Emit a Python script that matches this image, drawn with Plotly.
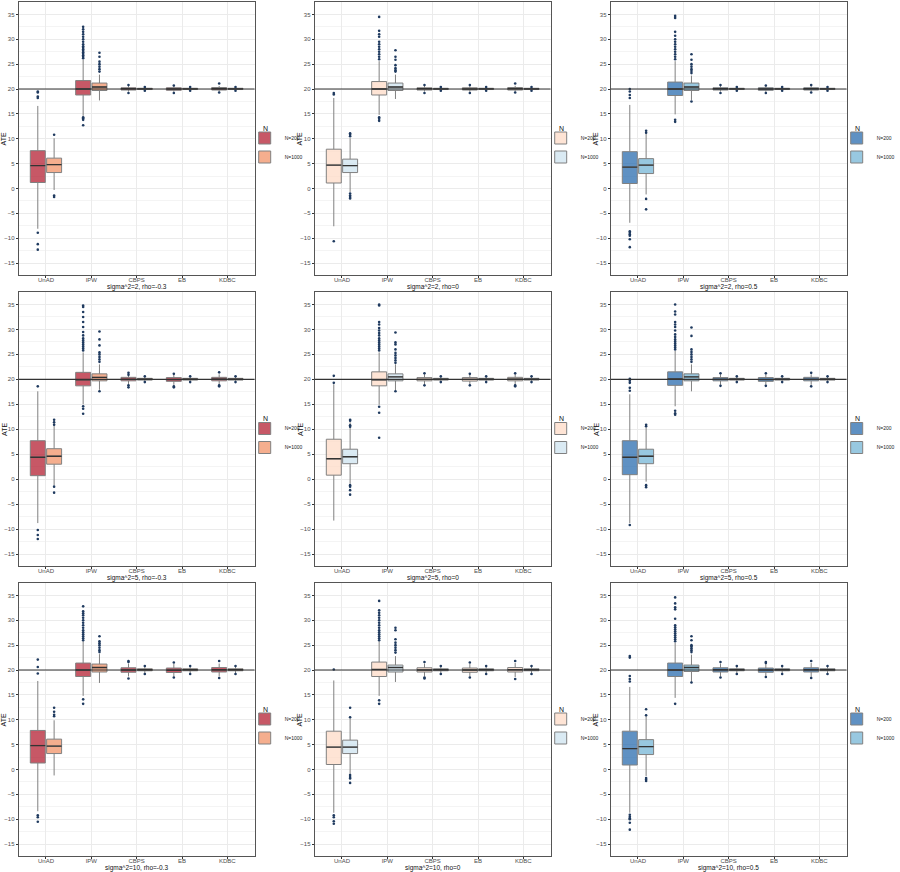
import plotly.graph_objects as go

# ---------- data ----------
methods = ["UnAD", "IPW", "CBPS", "EB", "KDBC"]
panel_titles = [
    "sigma^2=2, rho=-0.3", "sigma^2=2, rho=0", "sigma^2=2, rho=0.5",
    "sigma^2=5, rho=-0.3", "sigma^2=5, rho=0", "sigma^2=5, rho=0.5",
    "sigma^2=10, rho=-0.3", "sigma^2=10, rho=0", "sigma^2=10, rho=0.5",
]
true_ate = 20

# box stats, one row per panel, one value per method (N=200)
q1_200 = [
    [1.2, 18.8, 19.8, 19.75, 19.8], [1.1, 18.8, 19.8, 19.8, 19.8], [1.0, 18.7, 19.8, 19.75, 19.8],
    [0.7, 18.7, 19.7, 19.6, 19.7], [0.8, 18.7, 19.7, 19.65, 19.7], [0.9, 18.8, 19.7, 19.6, 19.7],
    [1.3, 18.7, 19.55, 19.5, 19.6], [1.0, 18.7, 19.6, 19.55, 19.6], [0.9, 18.7, 19.6, 19.55, 19.6],
]
med_200 = [
    [4.6, 20.0, 20.05, 20.0, 20.05], [4.7, 20.0, 20.05, 20.0, 20.05], [4.3, 20.0, 20.05, 20.0, 20.05],
    [4.4, 19.9, 20.0, 19.95, 20.05], [4.1, 19.9, 20.0, 20.0, 20.05], [4.4, 20.1, 20.0, 19.95, 20.0],
    [4.8, 20.0, 20.0, 19.95, 20.05], [4.5, 20.1, 20.0, 20.0, 20.05], [4.2, 20.0, 20.05, 20.0, 20.05],
]
q3_200 = [
    [7.6, 21.7, 20.25, 20.25, 20.3], [7.9, 21.5, 20.25, 20.25, 20.3], [7.4, 21.4, 20.25, 20.25, 20.25],
    [7.7, 21.4, 20.4, 20.35, 20.4], [8.0, 21.5, 20.35, 20.35, 20.4], [7.7, 21.5, 20.35, 20.35, 20.4],
    [7.85, 21.4, 20.45, 20.4, 20.5], [7.7, 21.6, 20.45, 20.4, 20.5], [7.7, 21.4, 20.45, 20.4, 20.45],
]
lo_200 = [
    [-8.1, 14.6, 19.5, 19.45, 19.5], [-7.6, 14.8, 19.5, 19.45, 19.5], [-6.9, 14.9, 19.5, 19.45, 19.5],
    [-8.8, 15.0, 18.9, 18.9, 18.9], [-8.3, 14.9, 18.9, 18.9, 18.9], [-8.8, 14.6, 18.9, 18.9, 18.9],
    [-8.4, 14.8, 18.7, 18.7, 18.7], [-8.7, 14.8, 18.7, 18.7, 18.6], [-8.7, 14.4, 18.7, 18.7, 18.6],
]
hi_200 = [
    [16.6, 25.9, 20.6, 20.6, 20.6], [18.2, 25.6, 20.6, 20.6, 20.65], [16.8, 25.6, 20.6, 20.6, 20.6],
    [17.6, 25.4, 21.0, 20.9, 21.0], [19.0, 25.4, 21.0, 20.95, 21.0], [17.0, 25.7, 21.0, 20.95, 21.0],
    [17.8, 25.8, 21.3, 21.2, 21.3], [17.9, 25.8, 21.3, 21.2, 21.4], [16.6, 25.5, 21.3, 21.3, 21.4],
]
out_200 = [
    [[19.5, 19.3, 18.5, 18.2, -8.9, -11.2, -12.3],
     [26.2, 26.5, 26.8, 27.1, 27.4, 27.7, 28.0, 28.3, 28.6, 29.0, 29.5, 30.0, 30.5, 31.0, 31.5, 32.0, 32.5, 14.3, 14.1, 13.8, 12.7],
     [19.2, 20.8], [19.2, 20.7], [19.3, 21.1]],
    [[19.2, 18.9, -10.6],
     [26.0, 26.5, 27.0, 27.5, 28.0, 28.5, 29.0, 29.5, 30.5, 31.0, 31.7, 34.5, 14.3, 14.0, 13.6],
     [19.2, 20.8], [19.2, 20.8], [19.3, 21.1]],
    [[20.0, 19.5, 18.8, 18.2, -8.6, -8.9, -9.2, -9.5, -10.2, -11.8],
     [26.0, 26.5, 27.0, 27.5, 28.0, 28.5, 29.0, 29.5, 30.0, 30.7, 31.5, 34.3, 34.7, 13.8, 13.4],
     [19.2, 20.8], [19.2, 20.7], [19.3, 20.8]],
    [[18.6, -10.2, -11.2, -12.0],
     [25.8, 26.2, 26.6, 27.0, 27.4, 27.8, 28.2, 28.8, 29.5, 30.5, 31.5, 32.5, 33.5, 34.5, 34.8, 14.6, 14.1, 13.1],
     [18.4, 18.8, 21.3, 20.9], [18.4, 18.6, 21.1], [18.6, 18.8, 21.4]],
    [[20.7, 19.3],
     [25.8, 26.2, 26.6, 27.0, 27.4, 27.8, 28.2, 28.8, 29.3, 29.8, 30.3, 31.0, 31.5, 34.8, 35.0, 14.5, 13.3, 8.3],
     [18.8, 21.2], [18.8, 21.1], [18.6, 18.8, 21.2]],
    [[20.1, 19.7, 19.3, 18.3, 17.7, -9.2],
     [26.0, 26.4, 26.8, 27.2, 27.6, 28.0, 28.5, 29.0, 29.8, 30.5, 31.0, 31.5, 33.0, 33.6, 35.0, 13.7, 13.2, 12.9],
     [18.7, 21.2], [18.7, 21.2], [18.6, 21.3]],
    [[19.3, 20.6, 22.1, -9.2, -9.6, -10.5],
     [26.0, 26.4, 26.8, 27.2, 27.6, 28.0, 28.5, 29.0, 29.5, 30.0, 30.5, 31.0, 31.4, 31.8, 32.8, 14.1, 13.2],
     [18.3, 21.6, 21.8], [18.5, 21.5], [18.4, 21.8]],
    [[20.1, -9.2, -9.6, -10.4, -10.9],
     [26.0, 26.4, 26.8, 27.2, 27.6, 28.0, 28.5, 29.0, 29.5, 30.0, 30.5, 31.0, 31.5, 32.0, 33.9, 13.9, 13.2],
     [18.3, 18.5, 21.6], [18.5, 21.5], [18.2, 21.8]],
    [[22.8, 22.5, 18.8, 18.2, 17.7, -9.1, -9.5, -9.8, -10.0, -10.7, -12.1],
     [25.8, 26.2, 26.6, 27.0, 27.4, 27.8, 28.2, 28.6, 29.0, 30.3, 32.2, 32.6, 33.4, 34.6, 13.2],
     [18.5, 21.6], [18.6, 21.6, 21.4], [18.4, 21.8]],
]

# box stats for N=1000
q1_1000 = [
    [3.2, 19.7, 19.9, 19.9, 19.9], [3.2, 19.7, 19.9, 19.9, 19.9], [3.0, 19.7, 19.9, 19.9, 19.9],
    [3.0, 19.7, 19.85, 19.85, 19.85], [3.1, 19.7, 19.85, 19.85, 19.85], [3.1, 19.7, 19.85, 19.85, 19.85],
    [3.2, 19.6, 19.85, 19.85, 19.85], [3.2, 19.6, 19.85, 19.85, 19.85], [3.0, 19.7, 19.85, 19.85, 19.85],
]
med_1000 = [
    [4.8, 20.4, 20.03, 20.03, 20.03], [4.6, 20.4, 20.03, 20.03, 20.03], [4.7, 20.4, 20.03, 20.03, 20.03],
    [4.6, 20.4, 20.02, 20.02, 20.02], [4.5, 20.5, 20.02, 20.02, 20.02], [4.6, 20.5, 20.02, 20.02, 20.02],
    [4.7, 20.5, 20.05, 20.05, 20.05], [4.5, 20.5, 20.05, 20.05, 20.05], [4.6, 20.5, 20.05, 20.05, 20.05],
]
q3_1000 = [
    [6.1, 21.2, 20.15, 20.15, 20.15], [5.9, 21.2, 20.15, 20.15, 20.15], [6.0, 21.2, 20.15, 20.15, 20.15],
    [6.1, 21.1, 20.2, 20.2, 20.2], [6.0, 21.1, 20.2, 20.2, 20.2], [6.0, 21.1, 20.2, 20.2, 20.2],
    [6.1, 21.2, 20.25, 20.25, 20.25], [5.9, 21.0, 20.25, 20.25, 20.25], [6.0, 21.0, 20.25, 20.25, 20.25],
]
lo_1000 = [
    [-0.3, 17.7, 19.75, 19.75, 19.75], [-0.7, 18.0, 19.75, 19.75, 19.75], [-1.2, 17.8, 19.75, 19.75, 19.75],
    [-1.2, 17.9, 19.6, 19.6, 19.6], [-0.9, 17.8, 19.6, 19.6, 19.6], [-0.5, 17.6, 19.6, 19.6, 19.6],
    [-1.2, 17.4, 19.4, 19.4, 19.4], [-0.9, 17.6, 19.4, 19.4, 19.4], [-1.3, 17.4, 19.4, 19.4, 19.4],
]
hi_1000 = [
    [10.1, 22.9, 20.3, 20.3, 20.3], [10.1, 22.9, 20.3, 20.3, 20.3], [11.1, 22.7, 20.3, 20.3, 20.3],
    [11.6, 23.0, 20.45, 20.45, 20.45], [11.4, 23.0, 20.45, 20.45, 20.45], [10.4, 23.0, 20.45, 20.45, 20.45],
    [9.9, 23.2, 20.6, 20.6, 20.6], [10.3, 22.8, 20.6, 20.6, 20.6], [11.1, 23.1, 20.6, 20.6, 20.6],
]
out_1000 = [
    [[10.8, -1.4, -1.7],
     [23.5, 24.0, 24.5, 25.0, 25.5, 26.5, 27.3],
     [19.65, 20.4], [19.65, 20.4], [19.65, 20.4]],
    [[10.5, 10.8, 11.1, -1.0, -1.4, -1.7, -2.0],
     [23.5, 23.8, 24.2, 24.8, 25.9, 26.5, 27.8],
     [19.65, 20.4], [19.65, 20.4], [19.65, 20.4]],
    [[11.2, 11.6, -2.1, -4.2],
     [23.2, 23.6, 24.0, 24.5, 25.0, 25.9, 27.0, 17.5],
     [19.65, 20.4], [19.65, 20.4], [19.65, 20.4]],
    [[11.9, 11.4, 10.9, -1.5, -2.7],
     [23.5, 24.0, 24.5, 25.0, 25.4, 26.8, 28.0, 29.6, 17.6],
     [19.45, 20.6], [19.45, 20.6], [19.45, 20.6]],
    [[11.9, 11.7, 10.8, 10.5, -1.2, -1.5, -2.2, -3.1],
     [23.3, 23.8, 24.3, 24.8, 25.3, 26.0, 27.0, 27.4, 29.4, 17.6],
     [19.45, 20.6], [19.45, 20.6], [19.45, 20.6]],
    [[10.9, 10.6, -1.2, -1.6],
     [23.5, 24.0, 24.5, 25.0, 25.5, 26.0, 28.7, 30.4],
     [19.45, 20.6], [19.45, 20.6], [19.45, 20.6]],
    [[12.4, 11.6, 11.0, 10.7],
     [23.6, 24.0, 24.5, 25.0, 25.4, 25.8, 26.8],
     [19.2, 20.8], [19.2, 20.8], [19.2, 20.8]],
    [[10.5, 12.4, -1.1, -1.5, -1.8, -2.7],
     [23.5, 24.0, 24.5, 25.0, 25.5, 26.2, 28.0, 28.5],
     [19.2, 20.8], [19.2, 20.8], [19.2, 20.8]],
    [[12.1, 10.9, -1.7, -2.0, -2.3],
     [23.6, 24.0, 24.4, 24.8, 25.0, 26.0, 26.8, 17.5],
     [19.2, 20.8], [19.2, 20.8], [19.2, 20.8]],
]

# fill colours per column (rho = -0.3, 0, 0.5)
fill_200 = ["rgba(178,24,43,0.72)", "rgba(253,219,199,0.75)", "rgba(33,102,172,0.72)"]
fill_1000 = ["rgba(244,165,130,0.9)", "rgba(209,229,240,0.8)", "rgba(146,197,222,0.95)"]

# ---------- layout geometry (pixels of the 900x872 page) ----------
W, H = 900, 872
col_px = [(19, 258), (319, 558), (619, 858)]
row_px = [(2, 275), (292, 566), (583, 856)]
dodge = 0.18
box_w = 0.33
font_fam = "Liberation Sans, Arial, sans-serif"

fig = go.Figure()
layout = {}
annotations = []
shapes = []

for k in range(9):
    r, c = divmod(k, 3)
    sfx = "" if k == 0 else str(k + 1)
    xa, ya, lg = "x" + sfx, "y" + sfx, "legend" + sfx
    pos = [i + 1 for i in range(len(methods))]

    for n_lab, off, fill, q1, md, q3, lo, hi, outs in [
        ("N=200", -dodge, fill_200[c], q1_200, med_200, q3_200, lo_200, hi_200, out_200),
        ("N=1000", dodge, fill_1000[c], q1_1000, med_1000, q3_1000, lo_1000, hi_1000, out_1000),
    ]:
        xs = [p + off for p in pos]
        fig.add_trace(go.Box(
            x=xs, q1=q1[k], median=md[k], q3=q3[k],
            lowerfence=lo[k], upperfence=hi[k],
            width=box_w, whiskerwidth=0,
            fillcolor=fill, line=dict(color="#808080", width=1),
            name=n_lab, xaxis=xa, yaxis=ya, legend=lg,
            hoverinfo="skip",
        ))
        # darker median segments
        mx, my = [], []
        for x0, m in zip(xs, md[k]):
            mx += [x0 - box_w / 2, x0 + box_w / 2, None]
            my += [m, m, None]
        fig.add_trace(go.Scatter(
            x=mx, y=my, mode="lines", line=dict(color="#333333", width=1.4),
            xaxis=xa, yaxis=ya, showlegend=False, hoverinfo="skip",
        ))
        # outliers
        ox, oy = [], []
        for x0, pts in zip(xs, outs[k]):
            ox += [x0] * len(pts)
            oy += pts
        fig.add_trace(go.Scatter(
            x=ox, y=oy, mode="markers",
            marker=dict(color="#1f3a5f", size=2.6),
            xaxis=xa, yaxis=ya, showlegend=False, hoverinfo="skip",
        ))

    x0p, x1p = col_px[c]
    y0p, y1p = row_px[r]
    ymid = (y0p + y1p) / 2
    layout["xaxis" + sfx] = dict(
        domain=[x0p / W, x1p / W], anchor=ya, range=[0.4, 5.6], automargin=False,
        tickvals=pos, ticktext=methods, ticklabelstandoff=-3,
        showgrid=True, gridcolor="#ebebeb", gridwidth=1, zeroline=False,
        showline=True, mirror=True, linecolor="#555555", linewidth=1,
        ticks="outside", ticklen=2, tickcolor="#333333",
        tickfont=dict(size=6, color="#4d4d4d"),
    )
    layout["yaxis" + sfx] = dict(
        domain=[1 - y1p / H, 1 - y0p / H], anchor=xa, range=[-17.4, 37.5], automargin=False,
        tick0=0, dtick=5,
        showgrid=True, gridcolor="#ebebeb", gridwidth=1, zeroline=False,
        minor=dict(dtick=2.5, showgrid=True, gridcolor="#f4f4f4", gridwidth=0.5),
        showline=True, mirror=True, linecolor="#555555", linewidth=1,
        ticks="outside", ticklen=2, tickcolor="#333333",
        tickfont=dict(size=6, color="#4d4d4d"),
    )
    layout[lg] = dict(
        x=(x1p - 10) / W, y=1 - (ymid + 9) / H,
        xanchor="left", yanchor="middle",
        font=dict(size=5, color="#222222"),
        bgcolor="rgba(0,0,0,0)", tracegroupgap=0, itemwidth=30,
    )
    # legend title "N"
    annotations.append(dict(
        text="N", xref="paper", yref="paper",
        x=(x1p + 7) / W, y=1 - (ymid - 10) / H,
        xanchor="left", yanchor="middle", showarrow=False,
        font=dict(size=7, color="#111111"),
    ))
    shapes.append(dict(
        type="line", xref=xa + " domain", x0=0, x1=1, yref=ya,
        y0=true_ate, y1=true_ate, layer="above",
        line=dict(color="#333333", width=1.2),
    ))
    annotations.append(dict(
        text=panel_titles[k], xref="paper", yref="paper",
        x=(x0p + x1p) / 2 / W, y=1 - (y1p + 12) / H,
        xanchor="center", yanchor="middle", showarrow=False,
        font=dict(size=6.5, color="#111111"),
    ))
    annotations.append(dict(
        text="ATE", xref="paper", yref="paper", textangle=-90,
        x=(x0p - 15) / W, y=1 - ymid / H,
        xanchor="center", yanchor="middle", showarrow=False,
        font=dict(size=7, color="#111111"),
    ))

fig.update_layout(
    **layout,
    width=W, height=H,
    margin=dict(l=0, r=0, t=0, b=0),
    paper_bgcolor="white", plot_bgcolor="white",
    font=dict(family=font_fam),
    shapes=shapes, annotations=annotations,
)

# the default page adds an 8px body margin; drop it so the figure fills the window
fig.write_html(
    "out.html",
    config={"displayModeBar": False},
    post_script="document.body.style.margin='0';",
)
